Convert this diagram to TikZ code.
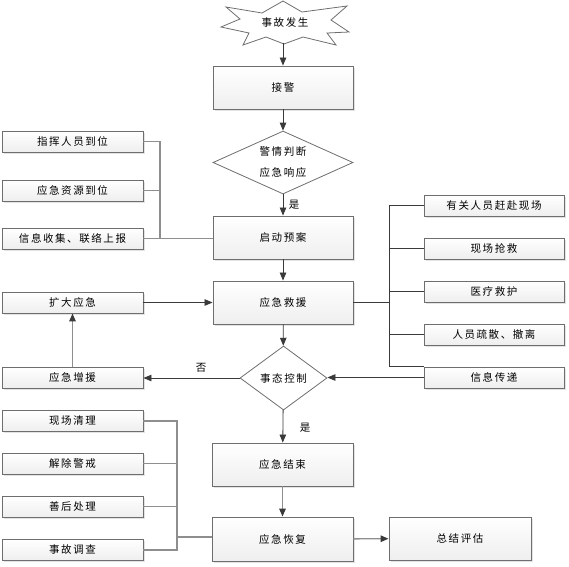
\documentclass[tikz,border=0pt]{standalone}
\usepackage{fontspec}
\setmainfont{Noto Sans CJK SC}[LetterSpace=15]
\usetikzlibrary{shapes.geometric,arrows.meta,shadows}
\definecolor{edge}{HTML}{6E6E6E}
\definecolor{dline}{HTML}{3A3A3A}
\definecolor{gline}{HTML}{8E8E8E}
\tikzset{
  txt/.style={font=\fontsize{10.5}{21}\selectfont},
  box/.style={txt, draw=edge, line width=0.9pt, top color=white, bottom color=gray!13,
    minimum width=140pt, minimum height=43pt, inner sep=0pt,
    drop shadow={opacity=0.22, shadow xshift=1.6pt, shadow yshift=-1.6pt}},
  sbox/.style={box, minimum width=141pt, minimum height=21pt},
  dia/.style={txt, diamond, draw=edge, line width=0.8pt, fill=white, inner sep=0pt, align=center},
  arr/.style={dline, line width=0.8pt, -{Triangle[length=8pt,width=6.5pt]}},
  garr/.style={gline, line width=1.4pt, -{Triangle[length=8pt,width=6.5pt,color=dline]}},
  dl/.style={dline, line width=0.8pt},
  gl/.style={gline, line width=1.4pt},
  lab/.style={txt, inner sep=0pt}
}
\begin{document}
\begin{tikzpicture}[x=1pt,y=-1pt]
\useasboundingbox (0,0) rectangle (569,566);
% star
\filldraw[draw=edge, line width=0.8pt, fill=white]
  (221,27) -- (240,19) -- (226,7) -- (262,13) -- (283,1) -- (302,12) -- (347,6)
  -- (331,20) -- (349,32) -- (327,33) -- (336,45) -- (303,37) -- (284,44)
  -- (266,37) -- (243,45) -- (249,33) -- cycle;
\node[lab] (star) at (285,22) {事故发生};
\coordinate (starb) at (283,43);
% main column
\node[box] (jj) at (283,87.5) {接警};
\node[dia, shape aspect=2.6, minimum width=140pt, minimum height=63pt] (d1) at (283,162.5) {警情判断\\应急响应};
\node[box] (qd) at (283,237.5) {启动预案};
\node[box] (jy) at (283,302.5) {应急救援};
\node[dia, shape aspect=1.4, minimum width=87pt, minimum height=64pt] (d2) at (283.5,378) {事态控制};
\node[box, minimum width=141pt] (js) at (282.5,464.5) {应急结束};
\node[box, minimum width=141pt, minimum height=44pt] (hf) at (282.5,539) {应急恢复};
\node[box, minimum width=142pt] (zj) at (460,538.5) {总结评估};
% left column
\node[sbox] (L1) at (72.5,141.5) {指挥人员到位};
\node[sbox] (L2) at (72.5,190.5) {应急资源到位};
\node[sbox] (L3) at (72.5,238.5) {信息收集、联络上报};
\node[sbox] (kd) at (72.5,302.5) {扩大应急};
\node[sbox] (zy) at (72.5,377.5) {应急增援};
\node[sbox] (B1) at (72.5,421) {现场清理};
\node[sbox] (B2) at (72.5,463.5) {解除警戒};
\node[sbox] (B3) at (72.5,506.5) {善后处理};
\node[sbox] (B4) at (72.5,550) {事故调查};
% right column
\node[sbox, minimum width=140pt] (R1) at (494,205.5) {有关人员赶赴现场};
\node[sbox, minimum width=140pt] (R2) at (494,248.5) {现场抢救};
\node[sbox, minimum width=140pt] (R3) at (494,291.5) {医疗救护};
\node[sbox, minimum width=140pt] (R4) at (494,334.5) {人员疏散、撤离};
\node[sbox, minimum width=140pt] (R5) at (494,377.5) {信息传递};
% main arrows
\draw[arr] (starb) -- (jj);
\draw[arr] (jj) -- (d1);
\draw[arr] (d1) -- (qd);
\node[lab] (yes1) at (294,205) {是};
\draw[arr] (qd) -- (jy);
\draw[arr] (jy) -- (d2);
\draw[arr] (d2) -- (js);
\node[lab] (yes2) at (305,428) {是};
\draw[garr] (js) -- (hf);
\draw[garr] (hf) -- (zj);
\draw[arr] (kd.east) -- (kd.east -| jy.west);
\draw[arr] (d2.west) -- (d2.west -| zy.east);
\node[lab] (no) at (201,368) {否};
\draw[garr] (zy) -- (kd);
\draw[arr] (R5.west) -- (R5.west -| d2.east);
% left top bracket
\coordinate (lb) at (160,238.5);
\draw[gl] (L1.east) -| (lb) -- (lb -| qd.west);
\draw[gl] (L2.east) -- (L2.east -| lb);
\draw[gl] (L3.east) -- (L3.east -| lb);
% right bracket
\coordinate (rb) at (389,302.5);
\coordinate (rbe) at (389,366);
\draw[dl] (jy.east) -- (rb);
\draw[dl] (R1.west) -| (rbe) -- (rbe -| R5.west);
\draw[dl] (R2.west) -- (R2.west -| rb);
\draw[dl] (R3.west) -- (R3.west -| rb);
\draw[dl] (R4.west) -- (R4.west -| rb);
% bottom bracket
\coordinate (bb) at (177,537);
\draw[gl] (B1.east) -| (B4.east -| bb) -- (B4.east);
\draw[gl] (B2.east) -- (B2.east -| bb);
\draw[gl] (B3.east) -- (B3.east -| bb);
\draw[gl] (bb) -- (bb -| hf.west);
\end{tikzpicture}
\end{document}
